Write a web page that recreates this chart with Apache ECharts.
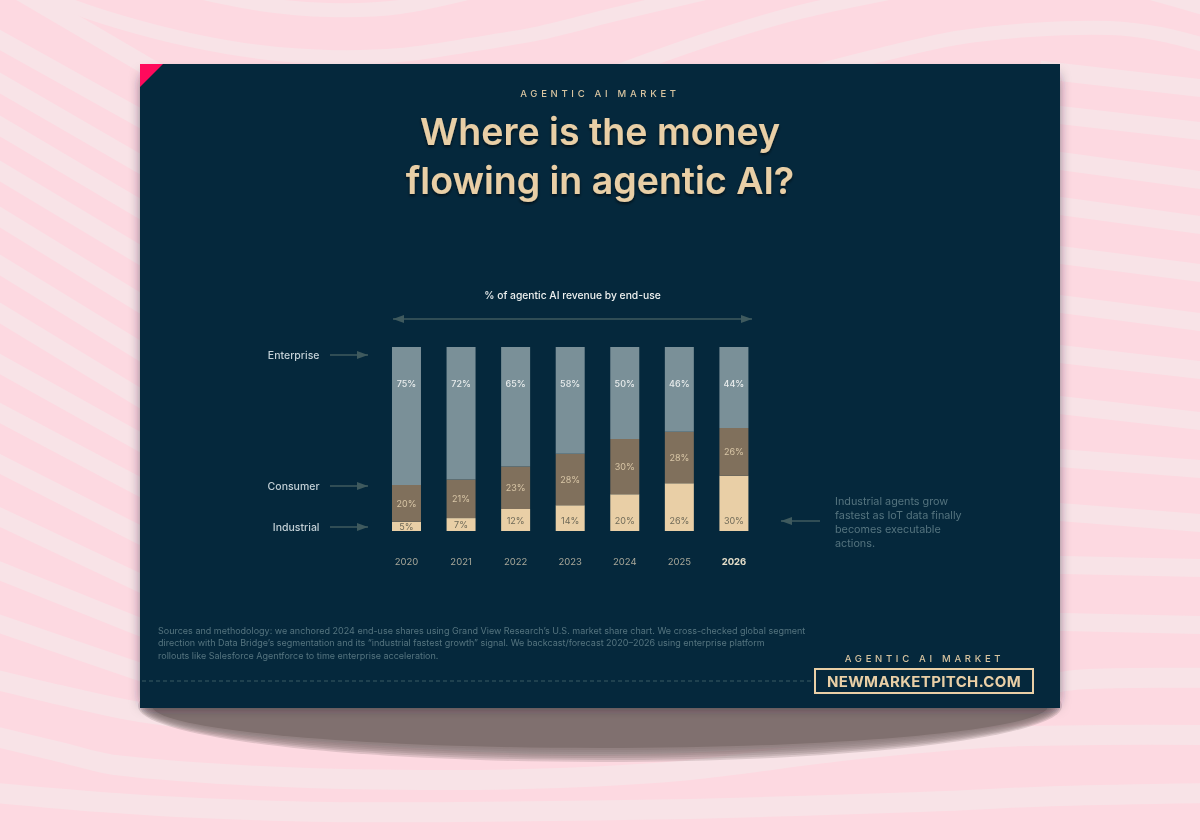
<!DOCTYPE html>
<html>
<head>
<meta charset="utf-8">
<style>
  html, body { margin: 0; padding: 0; background: #fdd9e1; overflow: hidden; }
  #main { width: 1200px; height: 840px; filter: blur(0.45px); }
</style>
<script src="https://cdn.jsdelivr.net/npm/echarts@6/dist/echarts.min.js"></script>
</head>
<body>
<div id="main"></div>
<script>
// chart data
var years = ['2020', '2021', '2022', '2023', '2024', '2025', '2026'];
var enterprise = [75, 72, 65, 58, 50, 46, 44];
var consumer = [20, 21, 23, 28, 30, 28, 26];
var industrial = [5, 7, 12, 14, 20, 26, 30];

// text
var eyebrow = 'AGENTIC AI MARKET';
var heading = 'Where is the money\nflowing in agentic AI?';
var chartTitle = '% of agentic AI revenue by end-use';
var callout = 'Industrial agents grow\nfastest as IoT data finally\nbecomes executable\nactions.';
var sources = 'Sources and methodology: we anchored 2024 end-use shares using Grand View Research\u2019s U.S. market share chart. We cross-checked global segment\n' +
  'direction with Data Bridge\u2019s segmentation and its \u201cindustrial fastest growth\u201d signal. We backcast/forecast 2020\u20132026 using enterprise platform\n' +
  'rollouts like Salesforce Agentforce to time enterprise acceleration.';
var siteName = 'NEWMARKETPITCH.COM';

var FONT = 'Inter';
var CREAM = '#e9cfa6';
var ARROW = '#3f5a5e';

// background ribbons, only decoration
// left edge and right edge: y at the page edge, y at the panel edge
var ribbonsLeft = [[-20, 62], [40, 118], [83, 164], [126, 209], [171, 255], [217, 303], [265, 351], [313, 398],
  [364, 442], [413, 487], [464, 535], [517, 583], [571, 627], [624, 672]];
var ribbonsRight = [[72, 88], [115, 131], [161, 180], [206, 225], [255, 273], [304, 322], [354, 370],
  [405, 421], [458, 469], [512, 523], [565, 568], [622, 625]];
var ribbonsTop = [
  [[40, -10], [61, 2], [120, 22], [190, 40], [260, 52], [329, 57], [400, 55], [470, 45], [540, 33], [612, 15], [727, -12]],
  [[190, -10], [260, 4], [329, 10], [400, 7], [480, -10]],
  [[600, 78], [700, 42], [800, 12], [925, -14]],
  [[790, 78], [880, 55], [956, 38], [1030, 30], [1110, 28], [1160, 34], [1215, 48]],
  [[1140, -10], [1200, 7], [1215, 12]]
];
var ribbonsBottom = [
  [[-15, 677], [60, 695], [140, 712], [300, 730], [600, 745], [900, 725], [1060, 682], [1130, 678], [1215, 678]],
  [[-15, 734], [60, 752], [115, 765], [260, 776], [420, 780], [560, 778], [690, 770], [850, 750], [1000, 737], [1100, 735], [1215, 735]],
  [[-15, 792], [100, 802], [200, 808], [330, 812], [459, 812], [690, 809], [920, 802], [1060, 796], [1215, 793]]
];

function extendRibbon(x1, y1, x2, y2) {
  var k = (y2 - y1) / (x2 - x1);
  return [[x1 - 20, y1 - 20 * k], [x2 + 20, y2 + 20 * k]];
}

function arrow(x1, x2, y, both) {
  var dir = x2 > x1 ? 1 : -1;
  var items = [{
    type: 'line',
    shape: { x1: x1, y1: y, x2: x2, y2: y },
    style: { stroke: ARROW, lineWidth: 1.5 }
  }, {
    type: 'polygon',
    shape: { points: [[x2, y], [x2 - dir * 11, y - 4], [x2 - dir * 11, y + 4]] },
    style: { fill: ARROW }
  }];
  if (both) {
    items.push({
      type: 'polygon',
      shape: { points: [[x1, y], [x1 + dir * 11, y - 4], [x1 + dir * 11, y + 4]] },
      style: { fill: ARROW }
    });
  }
  return items;
}

function sideLabel(name, y) {
  return {
    type: 'text',
    x: 319.5,
    y: y,
    style: { text: name, fill: '#c3d0d6', font: '500 10.5px ' + FONT, align: 'right', verticalAlign: 'middle' }
  };
}

function ribbon(pts, smooth, width) {
  return {
    type: 'polyline',
    shape: { points: pts, smooth: smooth },
    style: { stroke: '#f8e3e7', lineWidth: width, fill: null }
  };
}

var graphics = [];

ribbonsLeft.forEach(function (r) {
  graphics.push(ribbon(extendRibbon(0, r[0], 140, r[1]), 0, 18));
});
ribbonsRight.forEach(function (r) {
  graphics.push(ribbon(extendRibbon(1060, r[0], 1200, r[1]), 0, 18));
});
ribbonsTop.forEach(function (pts) {
  graphics.push(ribbon(pts, 0.3, 14));
});
ribbonsBottom.forEach(function (pts) {
  graphics.push(ribbon(pts, 0.3, 20));
});

// curved drop shadow, soft edge from stacked layers
for (var s = 7; s >= 0; s--) {
  graphics.push({
    type: 'ellipse',
    shape: { cx: 600, cy: 706, rx: 448 + s * 2, ry: 42 + s * 2 },
    style: { fill: '#80706f', opacity: s === 0 ? 1 : 0.24 }
  });
}
graphics.push({
  type: 'rect',
  shape: { x: 144, y: 76, width: 912, height: 628 },
  style: { fill: '#5a5460', shadowBlur: 14, shadowColor: 'rgba(40,30,50,0.95)' }
});
graphics.push({
  type: 'rect',
  shape: { x: 140, y: 64, width: 920, height: 644 },
  style: { fill: '#05283c' }
});
graphics.push({
  type: 'polygon',
  shape: { points: [[140, 64], [163, 64], [140, 87]] },
  style: { fill: '#ff0a5c' }
});

graphics = graphics.concat(
  arrow(393, 752, 319, true),
  arrow(330, 368, 355),
  arrow(330, 368, 486),
  arrow(330, 368, 527),
  arrow(820, 781, 521)
);

graphics.push(sideLabel('Enterprise', 355));
graphics.push(sideLabel('Consumer', 486));
graphics.push(sideLabel('Industrial', 527));

graphics.push({
  type: 'text',
  x: 835,
  y: 494,
  style: { text: callout, fill: '#55747f', font: '400 10.8px ' + FONT, lineHeight: 14 }
});
graphics.push({
  type: 'text',
  x: 158,
  y: 624,
  style: { text: sources, fill: '#55747f', font: '400 9px ' + FONT, lineHeight: 12.5 }
});
graphics.push({
  type: 'line',
  shape: { x1: 142, y1: 681, x2: 812, y2: 681 },
  style: { stroke: '#3a5a62', lineWidth: 1, lineDash: [4, 3] }
});
graphics.push({
  type: 'text',
  x: 924.5,
  y: 658,
  style: { text: eyebrow, fill: '#d8c4a0', font: '500 9.5px ' + FONT, align: 'center', verticalAlign: 'middle' }
});
graphics.push({
  type: 'rect',
  shape: { x: 815, y: 669, width: 218, height: 24 },
  style: { fill: 'none', stroke: CREAM, lineWidth: 2 }
});
graphics.push({
  type: 'text',
  x: 924,
  y: 681,
  style: { text: siteName, fill: CREAM, font: '700 15px ' + FONT, align: 'center', verticalAlign: 'middle' }
});

var chart = echarts.init(document.getElementById('main'), null, { renderer: 'svg', width: 1200, height: 840 });

var option = {
  animation: false,
  backgroundColor: '#fdd9e1',
  title: [{
    text: eyebrow,
    left: 'center',
    top: 83,
    textStyle: { color: '#d8c4a0', fontFamily: FONT, fontSize: 9.5, fontWeight: 500 }
  }, {
    text: heading,
    left: 'center',
    top: 102,
    textStyle: {
      color: CREAM,
      fontFamily: FONT,
      fontSize: 37.5,
      fontWeight: 600,
      lineHeight: 49,
      textShadowColor: 'rgba(0,0,0,0.6)',
      textShadowBlur: 3,
      textShadowOffsetY: 2
    }
  }, {
    text: chartTitle,
    left: 567.5,
    textAlign: 'center',
    top: 285,
    textStyle: { color: '#eef1f0', fontFamily: FONT, fontSize: 10.3, fontWeight: 500 }
  }],
  grid: { left: 379.2, width: 382, top: 347, height: 184, containLabel: false },
  xAxis: {
    type: 'category',
    data: years,
    axisLine: { show: false },
    axisTick: { show: false },
    axisLabel: {
      interval: 0,
      margin: 25,
      fontFamily: FONT,
      fontSize: 9.5,
      color: '#a9a89a',
      formatter: function (v) {
        return v === '2026' ? '{last|' + v + '}' : v;
      },
      rich: {
        last: { fontFamily: FONT, fontSize: 9.5, fontWeight: 700, color: '#e6dfca' }
      }
    }
  },
  yAxis: { type: 'value', min: 0, max: 100, show: false },
  series: [{
    name: 'Industrial',
    type: 'bar',
    stack: 'share',
    barWidth: 29,
    data: industrial.map(function (v) {
      // thin segments keep the label centred
      return v < 10 ? { value: v, label: { position: 'inside' } } : v;
    }),
    itemStyle: { color: CREAM },
    label: {
      show: true,
      position: 'insideBottom',
      distance: 6.5,
      formatter: '{c}%',
      color: '#6f6a58',
      fontFamily: FONT,
      fontSize: 9
    }
  }, {
    name: 'Consumer',
    type: 'bar',
    stack: 'share',
    barWidth: 29,
    data: consumer,
    itemStyle: { color: '#80705c' },
    label: {
      show: true,
      position: 'inside',
      formatter: '{c}%',
      color: '#d8c6a6',
      fontFamily: FONT,
      fontSize: 9
    }
  }, {
    name: 'Enterprise',
    type: 'bar',
    stack: 'share',
    barWidth: 29,
    data: enterprise,
    itemStyle: { color: '#7a9098' },
    label: {
      show: true,
      position: ['50%', 36],
      align: 'center',
      verticalAlign: 'middle',
      formatter: '{c}%',
      color: '#e8ecec',
      fontFamily: FONT,
      fontSize: 9,
      fontWeight: 500
    }
  }],
  graphic: { elements: graphics }
};

chart.setOption(option);

// the svg text picks up css spacing, echarts has no option for it
document.querySelectorAll('#main text').forEach(function (t) {
  if (t.textContent === eyebrow) t.style.letterSpacing = '3.7px';
  if (t.textContent === siteName) t.style.letterSpacing = '0.35px';
});
</script>
</body>
</html>
